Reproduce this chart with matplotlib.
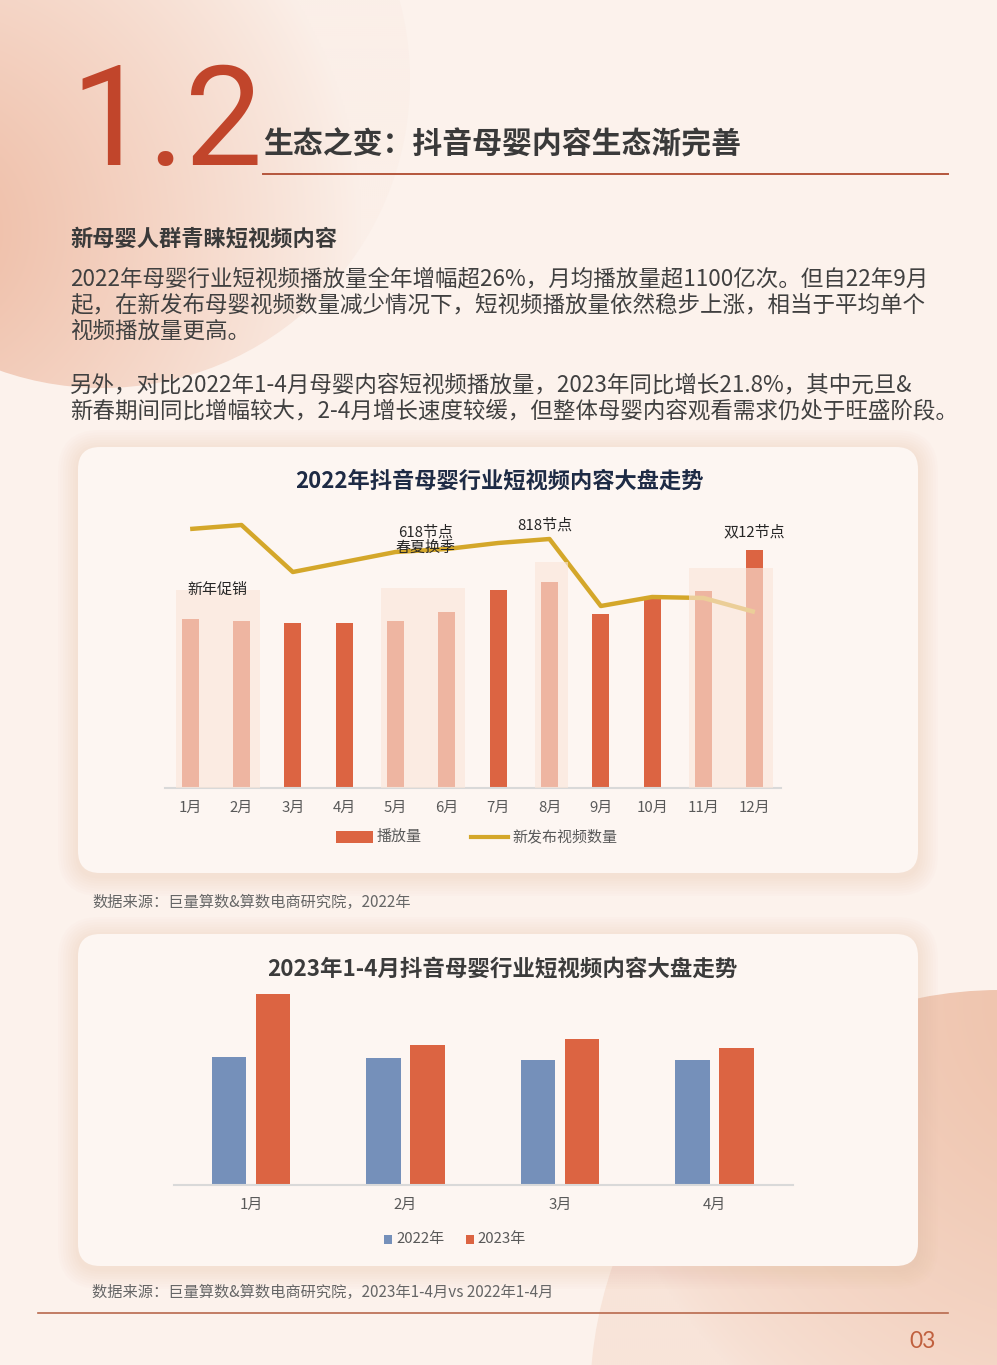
import matplotlib
matplotlib.use("Agg")
import matplotlib.pyplot as plt
import numpy as np
from matplotlib.patches import Circle, FancyBboxPatch, Rectangle

plt.rcParams['font.family'] = ['Noto Sans CJK SC', 'DejaVu Sans']

# ---- data (no axis scale shown) ----
MONTHS_2022 = ["1月", "2月", "3月", "4月", "5月", "6月",
               "7月", "8月", "9月", "10月", "11月", "12月"]
PLAYS_2022 = [1014, 1002, 990, 990, 1002, 1056, 1188, 1236, 1044, 1134, 1182, 1428]
NEW_VIDEOS_2022 = [259, 263, 216, 226, 236, 239, 245, 249, 182, 191, 190, 176]
HIGHLIGHT_SPANS = [(0, 1), (4, 5), (7, 7), (10, 11)]
NOTES = ["新年促销", "618节点\n春夏换季", "818节点", "双12节点"]

MONTHS_Q1 = ["1月", "2月", "3月", "4月"]
PLAYS_Q1_2022 = [1014, 1002, 990, 990]
PLAYS_Q1_2023 = [1513, 1112, 1156, 1085]

W, H = 997, 1365
ORANGE = "#dc6442"
GOLD = "#d4a72a"
BLUE = "#7590ba"
TICK_GRAY = "#595959"


def fig_rect(left, top, right, bottom):
    return [left / W, (H - bottom) / H, (right - left) / W, (bottom - top) / H]


fig = plt.figure(figsize=(W / 100, H / 100), dpi=100)
fig.patch.set_facecolor("#fcf2ec")

bg = fig.add_axes([0, 0, 1, 1])
bg.set_xlim(0, W)
bg.set_ylim(H, 0)
bg.axis("off")

# soft peach circles
yy, xx = np.mgrid[0:H:2, 0:W:2]
dark = np.array([238, 186, 162]) / 255
light = np.array([251, 239, 232]) / 255

f1 = np.clip(1 - np.hypot(xx + 80, yy - 230) / 440, 0, 1) ** 0.9
img1 = light + (dark - light) * f1[..., None]
c1 = Circle((102, 80), 308, transform=bg.transData, facecolor="none", edgecolor="none")
bg.add_patch(c1)
im = bg.imshow(img1, extent=(0, W, H, 0), zorder=0, interpolation="bilinear")
im.set_clip_path(c1)

lo2 = np.array([248, 228, 217]) / 255
hi2 = np.array([238, 192, 168]) / 255
f2 = np.clip(1 - np.hypot(xx - 1100, yy - 1000) / 520, 0, 1) ** 0.7
img2 = lo2 + (hi2 - lo2) * f2[..., None]
c2 = Circle((1000, 1400), 410, transform=bg.transData, facecolor="none", edgecolor="none")
bg.add_patch(c2)
im2 = bg.imshow(img2, extent=(0, W, H, 0), zorder=0, interpolation="bilinear")
im2.set_clip_path(c2)
bg.set_xlim(0, W)
bg.set_ylim(H, 0)

# cards with soft shadow
for (x0, y0, x1, y1) in [(78, 447, 918, 873), (78, 934, 918, 1266)]:
    for i in range(8, 0, -1):
        bg.add_patch(FancyBboxPatch((x0 - i * 2.5, y0 - i * 2.5 + 3), x1 - x0 + i * 5,
                                    y1 - y0 + i * 5,
                                    boxstyle=f"round,pad=0,rounding_size={22 + i * 2.5}",
                                    facecolor="#eab89e", edgecolor="none",
                                    alpha=0.035, zorder=1))
    bg.add_patch(FancyBboxPatch((x0, y0), x1 - x0, y1 - y0,
                                boxstyle="round,pad=0,rounding_size=22",
                                facecolor="#fdf6f2", edgecolor="none", zorder=2))

# header
bg.text(70, 165, "1.2", fontsize=100, color="#c1452b",
        family=["Roboto", "Lato", "DejaVu Sans"],
        fontweight="normal", ha="left", va="baseline", zorder=3)
bg.text(263, 145, "生态之变：抖音母婴内容生态渐完善", fontsize=21.5, fontweight="bold",
        color="#3a3a3a", ha="left", va="center", zorder=3)
bg.plot([263, 948], [174, 174], color="#b5563c", lw=1.4, zorder=3)

bg.text(70, 239, "新母婴人群青睐短视频内容", fontsize=16, fontweight="bold",
        color="#3a3a3a", ha="left", va="center", zorder=3)
body = [
    (279, "2022年母婴行业短视频播放量全年增幅超26%，月均播放量超1100亿次。但自22年9月"),
    (305, "起，在新发布母婴视频数量减少情况下，短视频播放量依然稳步上涨，相当于平均单个"),
    (331, "视频播放量更高。"),
    (385, "另外，对比2022年1-4月母婴内容短视频播放量，2023年同比增长21.8%，其中元旦&"),
    (411, "新春期间同比增幅较大，2-4月增长速度较缓，但整体母婴内容观看需求仍处于旺盛阶段。"),
]
for y, line in body:
    bg.text(70, y, line, fontsize=16.2, color="#404040", ha="left", va="center", zorder=3)

# ---- chart 1 ----
bg.text(499, 481, "2022年抖音母婴行业短视频内容大盘走势", fontsize=16, fontweight="bold",
        color="#1e2b45", ha="center", va="center", zorder=3)

ax1 = fig.add_axes(fig_rect(165, 500, 781, 788))
ax1.set_facecolor("none")
x = np.arange(len(MONTHS_2022))
ax1.bar(x, PLAYS_2022, width=0.33, color=ORANGE, zorder=2)
ax1.set_xlim(-0.49, 11.51)
ax1.set_ylim(0, 1728)
ax1.set_xticks(x)
ax1.set_xticklabels(MONTHS_2022, fontsize=10.8, color=TICK_GRAY)
ax1.tick_params(axis="x", length=0, pad=9)
ax1.set_yticks([])
for s in ["top", "left", "right"]:
    ax1.spines[s].set_visible(False)
ax1.spines["bottom"].set_color("#d9d9d9")
ax1.spines["bottom"].set_linewidth(1.5)

ax2 = ax1.twinx()
ax2.set_facecolor("none")
ax2.plot(x, NEW_VIDEOS_2022, color=GOLD, lw=3.2, zorder=3, solid_capstyle="butt")
ax2.set_ylim(0, 288)
ax2.set_yticks([])
for s in ax2.spines.values():
    s.set_visible(False)

box_tops = [198, 200, 226, 220]
for (a, b), top in zip(HIGHLIGHT_SPANS, box_tops):
    ax2.add_patch(Rectangle((a - 0.28, 0), b - a + 0.64, top, facecolor="#fae6da",
                            edgecolor="none", alpha=0.63, zorder=4))

note_pos = [(0.53, 198), (4.58, 248), (6.91, 263), (10.98, 256)]
for txt, (nx, ny) in zip(NOTES, note_pos):
    ax2.text(nx, ny, txt, fontsize=10.8, color="#262626", ha="center", va="center",
             linespacing=1.1, zorder=5)

# legend 1
bg.add_patch(Rectangle((336, 831), 37, 12, facecolor=ORANGE, edgecolor="none", zorder=3))
bg.text(377, 837, "播放量", fontsize=10.8, color=TICK_GRAY, ha="left", va="center", zorder=3)
bg.plot([471, 508], [837, 837], color=GOLD, lw=3, zorder=3)
bg.text(512, 837, "新发布视频数量", fontsize=10.8, color=TICK_GRAY, ha="left", va="center",
        zorder=3)

bg.text(92, 902, "数据来源：巨量算数&算数电商研究院，2022年", fontsize=11, color="#666666",
        ha="left", va="center", zorder=3)

# ---- chart 2 ----
bg.text(502, 969, "2023年1-4月抖音母婴行业短视频内容大盘走势", fontsize=16.2,
        fontweight="bold", color="#3b3b3b", ha="center", va="center", zorder=3)

ax3 = fig.add_axes(fig_rect(174, 985, 793, 1185))
ax3.set_facecolor("none")
xq = np.arange(len(MONTHS_Q1))
ax3.bar(xq - 0.1426, PLAYS_Q1_2022, width=0.2236, color=BLUE, zorder=2)
ax3.bar(xq + 0.1426, PLAYS_Q1_2023, width=0.2236, color=ORANGE, zorder=2)
ax3.set_xlim(-0.5, 3.51)
ax3.set_ylim(0, 1584)
ax3.set_xticks(xq)
ax3.set_xticklabels(MONTHS_Q1, fontsize=10.8, color=TICK_GRAY)
ax3.tick_params(axis="x", length=0, pad=9)
ax3.set_yticks([])
for s in ["top", "left", "right"]:
    ax3.spines[s].set_visible(False)
ax3.spines["bottom"].set_color("#d9d9d9")
ax3.spines["bottom"].set_linewidth(1.5)

bg.add_patch(Rectangle((384, 1235), 8, 8.5, facecolor=BLUE, edgecolor="none", zorder=3))
bg.text(396, 1239, "2022年", fontsize=10.8, color=TICK_GRAY, ha="left", va="center", zorder=3)
bg.add_patch(Rectangle((466, 1235), 8, 8.5, facecolor=ORANGE, edgecolor="none", zorder=3))
bg.text(477, 1239, "2023年", fontsize=10.8, color=TICK_GRAY, ha="left", va="center", zorder=3)

bg.text(92, 1292, "数据来源：巨量算数&算数电商研究院，2023年1-4月vs 2022年1-4月", fontsize=11,
        color="#666666", ha="left", va="center", zorder=3)

# footer
bg.plot([38, 948], [1313, 1313], color="#b8694d", lw=1.2, zorder=3)
bg.text(936, 1341, "03", fontsize=16.5, color="#c0603e", ha="right", va="center",
        family=["Lato", "DejaVu Sans"], zorder=3)

fig.savefig("out.png", dpi=100)
